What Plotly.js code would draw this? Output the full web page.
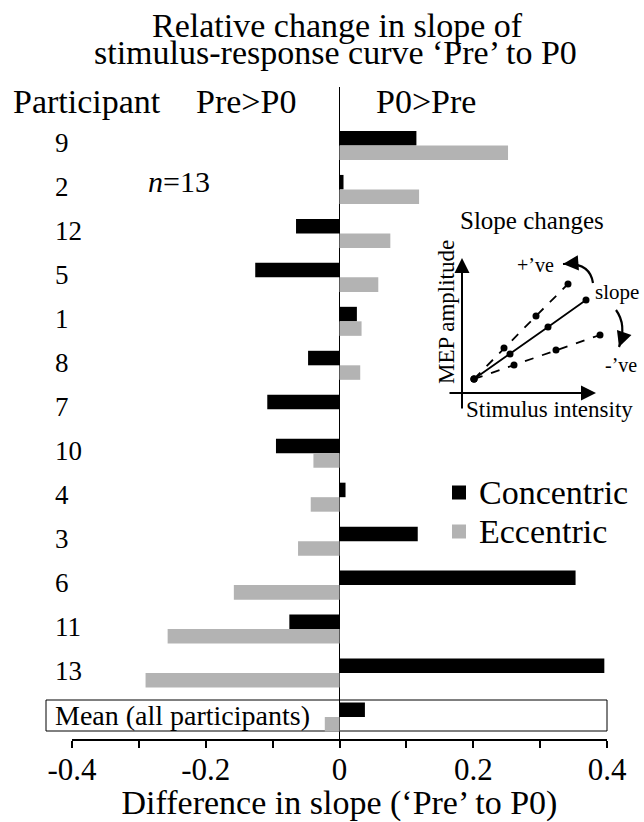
<!DOCTYPE html>
<html>
<head>
<meta charset="utf-8">
<script src="https://cdn.plot.ly/plotly-3.0.1.min.js"></script>
<style>html,body{margin:0;padding:0;background:#fff}#chart{width:644px;height:822px}</style>
</head>
<body>
<div id="chart"></div>
<script>
// ---- data ----
const categories = ['9','2','12','5','1','8','7','10','4','3','6','11','13','Mean (all participants)'];
const seriesNames = ['Concentric', 'Eccentric'];
const seriesColors = ['#000000', '#b3b3b3'];
const concentric = [0.115, 0.006, -0.065, -0.126, 0.026, -0.047, -0.108, -0.095, 0.009, 0.117, 0.353, -0.075, 0.396, 0.038];
const eccentric  = [0.252, 0.119, 0.076, 0.058, 0.033, 0.031, 0.0, -0.039, -0.043, -0.062, -0.158, -0.257, -0.290, -0.022];
const xTickVals = [-0.4, -0.2, 0, 0.2, 0.4];
const xTickText = ['-0.4', '-0.2', '0', '0.2', '0.4'];
// schematic inset ("Slope changes") points, in inset units
const insetSolidX = [0, 36, 74, 112];
const insetSolidY = [0, 25, 52, 79];
const insetUpX = [0, 30, 62, 94];
const insetUpY = [0, 31, 63, 95];
const insetDownX = [0, 40, 82, 126];
const insetDownY = [0, 14, 29, 44];

// ---- layout helpers ----
const W = 644, H = 822;
const px = x => x / W;
const py = y => 1 - y / H;
const FONT = 'Liberation Serif';
const f = (s) => ({family: FONT, size: s, color: '#000'});

const traces = [
  {type: 'bar', orientation: 'h', name: seriesNames[0], y: categories, x: concentric,
   marker: {color: seriesColors[0]}, hoverinfo: 'x+y', showlegend: false},
  {type: 'bar', orientation: 'h', name: seriesNames[1], y: categories, x: eccentric,
   marker: {color: seriesColors[1]}, hoverinfo: 'x+y', showlegend: false},
  {type: 'scatter', mode: 'lines+markers', x: insetSolidX, y: insetSolidY, xaxis: 'x2', yaxis: 'y2',
   line: {color: '#000', width: 1.8}, marker: {color: '#000', size: 7}, showlegend: false, hoverinfo: 'skip', cliponaxis: false},
  {type: 'scatter', mode: 'lines+markers', x: insetUpX, y: insetUpY, xaxis: 'x2', yaxis: 'y2',
   line: {color: '#000', width: 1.8, dash: 'dash'}, marker: {color: '#000', size: 7}, showlegend: false, hoverinfo: 'skip', cliponaxis: false},
  {type: 'scatter', mode: 'lines+markers', x: insetDownX, y: insetDownY, xaxis: 'x2', yaxis: 'y2',
   line: {color: '#000', width: 1.8, dash: 'dash'}, marker: {color: '#000', size: 7}, showlegend: false, hoverinfo: 'skip', cliponaxis: false}
];

const annotations = [
  {text: 'Relative change in slope of', xref: 'paper', yref: 'paper', x: px(337), y: py(25), xanchor: 'center', yanchor: 'middle', showarrow: false, font: f(34)},
  {text: 'stimulus-response curve ‘Pre’ to P0', xref: 'paper', yref: 'paper', x: px(335), y: py(53), xanchor: 'center', yanchor: 'middle', showarrow: false, font: f(34)},
  {text: 'Participant', xref: 'paper', yref: 'paper', x: px(11), y: py(102), xanchor: 'left', yanchor: 'middle', showarrow: false, font: f(34)},
  {text: 'Pre>P0', xref: 'paper', yref: 'paper', x: px(246), y: py(102), xanchor: 'center', yanchor: 'middle', showarrow: false, font: f(34)},
  {text: 'P0>Pre', xref: 'paper', yref: 'paper', x: px(426), y: py(102), xanchor: 'center', yanchor: 'middle', showarrow: false, font: f(34)},
  {text: '<i>n</i>=13', xref: 'paper', yref: 'paper', x: px(146), y: py(181), xanchor: 'left', yanchor: 'middle', showarrow: false, font: f(30)},
  // inset texts
  {text: 'Slope changes', xref: 'paper', yref: 'paper', x: px(532), y: py(220), xanchor: 'center', yanchor: 'middle', showarrow: false, font: f(25)},
  {text: 'MEP amplitude', xref: 'paper', yref: 'paper', x: px(446), y: py(312), xanchor: 'center', yanchor: 'middle', textangle: -90, showarrow: false, font: f(23)},
  {text: 'Stimulus intensity', xref: 'paper', yref: 'paper', x: px(549), y: py(409), xanchor: 'center', yanchor: 'middle', showarrow: false, font: f(23)},
  {text: '+’ve', xref: 'paper', yref: 'paper', x: px(535), y: py(265), xanchor: 'center', yanchor: 'middle', showarrow: false, font: f(20)},
  {text: 'slope', xref: 'paper', yref: 'paper', x: px(617), y: py(292), xanchor: 'center', yanchor: 'middle', showarrow: false, font: f(21)},
  {text: '-’ve', xref: 'paper', yref: 'paper', x: px(621), y: py(365), xanchor: 'center', yanchor: 'middle', showarrow: false, font: f(20)},
  // inset axes arrows
  {text: '', xref: 'x2', yref: 'y2', axref: 'x2', ayref: 'y2', x: -12, y: 121, ax: -12, ay: -31, showarrow: true, arrowhead: 2, arrowsize: 1.5, arrowwidth: 2, arrowcolor: '#000', standoff: 0},
  {text: '', xref: 'x2', yref: 'y2', axref: 'x2', ayref: 'y2', x: 122, y: -14, ax: -26, ay: -14, showarrow: true, arrowhead: 2, arrowsize: 1.5, arrowwidth: 2, arrowcolor: '#000', standoff: 0},
  // curved arrow heads
  {text: '', xref: 'x2', yref: 'y2', axref: 'x2', ayref: 'y2', x: 89, y: 115, ax: 97, ay: 115.6, showarrow: true, arrowhead: 2, arrowsize: 1.4, arrowwidth: 2.2, arrowcolor: '#000', standoff: 0},
  {text: '', xref: 'x2', yref: 'y2', axref: 'x2', ayref: 'y2', x: 145, y: 32, ax: 147.7, ay: 39.5, showarrow: true, arrowhead: 2, arrowsize: 1.4, arrowwidth: 2.2, arrowcolor: '#000', standoff: 0}
];

// participant labels, left-aligned; positioned by category index on the y axis
categories.forEach((c, i) => {
  annotations.push({text: c, xref: 'paper', yref: 'y', x: px(53), y: i, yshift: 2, xanchor: 'left', yanchor: 'middle',
    showarrow: false, font: f(c.length > 3 ? 28 : 27)});
});

const upperArc = {start: [119, 96], ctrl: [116, 117], end: [89, 115]};
const lowerArc = {start: [142, 69], ctrl: [153, 54], end: [145, 32]};
const arcPath = a => `M ${a.start[0]},${a.start[1]} Q ${a.ctrl[0]},${a.ctrl[1]} ${a.end[0]},${a.end[1]}`;

const shapes = [
  {type: 'rect', xref: 'paper', yref: 'paper', x0: px(46), x1: px(607), y0: py(731), y1: py(700),
   line: {color: '#000', width: 1}, fillcolor: 'rgba(0,0,0,0)', layer: 'below'},
  {type: 'path', xref: 'x2', yref: 'y2', path: arcPath(upperArc), line: {color: '#000', width: 2.2}},
  {type: 'path', xref: 'x2', yref: 'y2', path: arcPath(lowerArc), line: {color: '#000', width: 2.2}}
];

// legend (drawn from the series names / colours)
const legendRowY = [492.5, 531.5];
seriesNames.forEach((name, i) => {
  shapes.push({type: 'rect', xref: 'paper', yref: 'paper', x0: px(452), x1: px(466),
    y0: py(legendRowY[i] + 7), y1: py(legendRowY[i] - 7), line: {width: 0}, fillcolor: seriesColors[i]});
  annotations.push({text: name, xref: 'paper', yref: 'paper', x: px(477), y: py(legendRowY[i]), xanchor: 'left', yanchor: 'middle',
    showarrow: false, font: f(34)});
});

const layout = {
  width: W, height: H,
  margin: {l: 0, r: 0, t: 0, b: 0},
  paper_bgcolor: '#fff', plot_bgcolor: 'rgba(0,0,0,0)',
  font: f(30),
  barmode: 'group', bargap: 0.34, bargroupgap: 0,
  showlegend: false,
  xaxis: {
    domain: [px(72), px(607)], range: [-0.4, 0.4], automargin: false,
    tickmode: 'array', tickvals: xTickVals, ticktext: xTickText,
    ticks: 'outside', ticklen: 7, tickwidth: 2, tickcolor: '#000',
    minor: {tickmode: 'linear', tick0: -0.4, dtick: 0.1, ticks: 'outside', ticklen: 7, tickwidth: 2, tickcolor: '#000', showgrid: false},
    showline: true, linecolor: '#000', linewidth: 2,
    showgrid: false, zeroline: true, zerolinecolor: '#000', zerolinewidth: 1.5,
    tickfont: f(31), ticklabelstandoff: -5,
    title: {text: 'Difference in slope (‘Pre’ to P0)', font: f(34), standoff: 6},
    fixedrange: true
  },
  yaxis: {
    domain: [py(739), py(87)], type: 'category', range: [13.5, -1.33], automargin: false,
    showticklabels: false, ticks: '', showgrid: false, zeroline: false, showline: false, fixedrange: true
  },
  xaxis2: {domain: [px(420), 1], range: [-54, 170], anchor: 'y2', visible: false, fixedrange: true},
  yaxis2: {domain: [py(420), py(240)], range: [-41, 139], anchor: 'x2', visible: false, fixedrange: true},
  annotations: annotations,
  shapes: shapes
};

Plotly.newPlot('chart', traces, layout, {displayModeBar: false, staticPlot: true});
</script>
</body>
</html>
